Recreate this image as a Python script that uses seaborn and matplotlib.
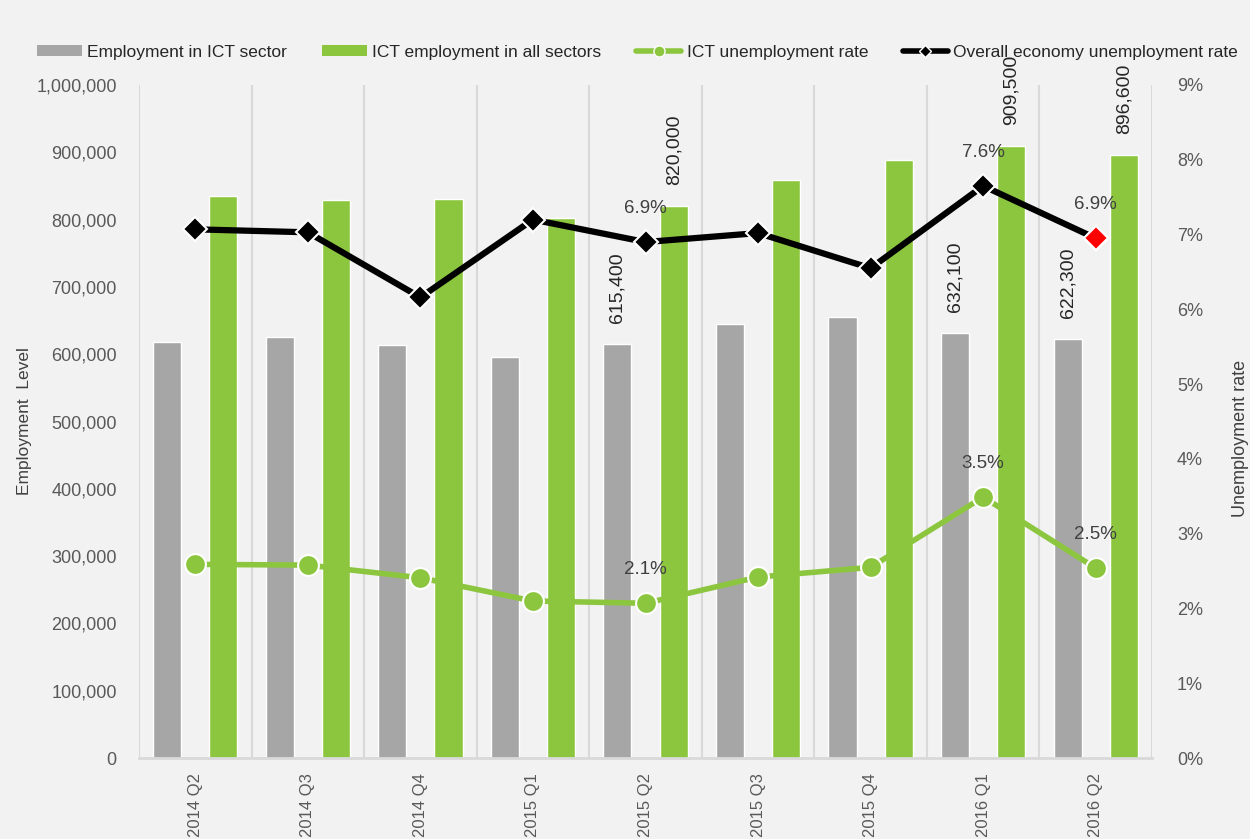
import numpy as np
import pandas as pd
import matplotlib
matplotlib.use("Agg")
import matplotlib.pyplot as plt
import seaborn as sns
from matplotlib.patches import Patch
from matplotlib.lines import Line2D
from matplotlib.ticker import FuncFormatter, FixedLocator

# ---- data ----
quarters = ["2014 Q2", "2014 Q3", "2014 Q4", "2015 Q1", "2015 Q2",
            "2015 Q3", "2015 Q4", "2016 Q1", "2016 Q2"]
emp_ict_sector = [618000, 625000, 613000, 596000, 615400, 645000, 655000, 632100, 622300]
ict_emp_all = [835000, 829000, 831000, 802000, 820000, 859000, 888000, 909500, 896600]
ict_unemp = [2.59, 2.58, 2.41, 2.10, 2.07, 2.42, 2.55, 3.49, 2.54]
overall_unemp = [7.07, 7.03, 6.16, 7.20, 6.90, 7.02, 6.55, 7.65, 6.95]
labelled_idx = [4, 7, 8]
overall_labels = ["6.9%", "7.6%", "6.9%"]
ict_labels = ["2.1%", "3.5%", "2.5%"]
series_names = ["Employment in ICT sector", "ICT employment in all sectors"]

BG = "#f2f2f2"
GREY = "#a6a6a6"
GREEN = "#8cc63f"
GRID = "#d9d9d9"
TXT = "#595959"

sns.set_theme(style="white")
plt.rcParams["font.family"] = ["Liberation Sans", "DejaVu Sans"]

df = pd.DataFrame({
    "quarter": quarters * 2,
    "series": [series_names[0]] * len(quarters) + [series_names[1]] * len(quarters),
    "value": emp_ict_sector + ict_emp_all,
})

fig = plt.figure(figsize=(12.5, 8.39), dpi=100, facecolor=BG)
ax = fig.add_axes([0.1112, 0.0965, 0.8104, 0.8022])
ax.set_facecolor(BG)

sns.barplot(data=df, x="quarter", y="value", hue="series",
            palette=[GREY, GREEN], width=1.0, gap=0.5, ax=ax,
            legend=False, saturation=1, zorder=2)

n = len(quarters)
ax.set_xlim(-0.5, n - 0.5)
ax.set_ylim(0, 1000000)
ax.set_yticks(np.arange(0, 1000001, 100000))
ax.yaxis.set_major_formatter(FuncFormatter(lambda v, p: f"{int(v):,}"))
ax.set_xticks(np.arange(n))
ax.set_xticklabels(quarters, rotation=90)
ax.xaxis.set_minor_locator(FixedLocator(np.arange(-0.5, n, 1.0)))
ax.tick_params(axis="x", which="major", length=0, pad=11, labelsize=12, labelcolor=TXT)
ax.tick_params(axis="x", which="minor", length=10, width=1.5, color=GRID)
ax.tick_params(axis="y", length=0, labelsize=13, labelcolor=TXT, pad=16)
ax.grid(False)
for xb in np.arange(-0.5, n, 1.0):
    ax.axvline(xb, color=GRID, lw=1.5, zorder=0)
for s in ["top", "right", "left"]:
    ax.spines[s].set_visible(False)
ax.spines["bottom"].set_color(GRID)
ax.spines["bottom"].set_linewidth(2)
ax.set_xlabel("")
ax.set_ylabel("Employment  Level", fontsize=12.5, color="#404040", ha="center", va="center")
ax.yaxis.set_label_coords(-0.1135, 0.5)

# bar labels
for i in labelled_idx:
    ax.annotate(f"{emp_ict_sector[i]:,}", (i - 0.25, emp_ict_sector[i]),
                xytext=(0, 15), textcoords="offset points", rotation=90,
                ha="center", va="bottom", fontsize=14, color="#262626")
    ax.annotate(f"{ict_emp_all[i]:,}", (i + 0.25, ict_emp_all[i]),
                xytext=(0, 15), textcoords="offset points", rotation=90,
                ha="center", va="bottom", fontsize=14, color="#262626")

# right axis
ax2 = ax.twinx()
ax2.set_ylim(0, 9)
ax2.set_yticks(np.arange(0, 10, 1))
ax2.yaxis.set_major_formatter(FuncFormatter(lambda v, p: f"{int(v)}%"))
ax2.tick_params(axis="y", length=0, labelsize=13, labelcolor=TXT, pad=18)
for s in ["top", "left", "bottom", "right"]:
    ax2.spines[s].set_visible(False)
ax2.set_ylabel("Unemployment rate", fontsize=13, color="#404040", ha="center", va="center")
ax2.yaxis.set_label_coords(1.087, 0.475)
ax2.grid(False)

xs = np.arange(n)
sns.lineplot(x=xs, y=ict_unemp, ax=ax2, color=GREEN, lw=4, marker="o",
             markersize=15, markeredgecolor="white", markeredgewidth=1.5, zorder=3)
sns.lineplot(x=xs, y=overall_unemp, ax=ax2, color="black", lw=4.5, marker="D",
             markersize=12, markeredgecolor="white", markeredgewidth=1.5, zorder=4)
ax2.plot([xs[-1]], [overall_unemp[-1]], marker="D", markersize=12, color="#ff0000",
         markeredgecolor="white", markeredgewidth=1.5, zorder=5, linestyle="none")
ax2.set_xlim(-0.5, n - 0.5)

for i, lab in zip(labelled_idx, overall_labels):
    ax2.annotate(lab, (i, overall_unemp[i]), xytext=(0, 24), textcoords="offset points",
                 ha="center", va="center", fontsize=13.5, color="#404040")
for i, lab in zip(labelled_idx, ict_labels):
    ax2.annotate(lab, (i, ict_unemp[i]), xytext=(0, 24), textcoords="offset points",
                 ha="center", va="center", fontsize=13.5, color="#404040")

# legend
handles = [
    Patch(facecolor=GREY, edgecolor="none", label=series_names[0]),
    Patch(facecolor=GREEN, edgecolor="none", label=series_names[1]),
    Line2D([], [], color=GREEN, lw=4, marker="o", markersize=8,
           markeredgecolor="white", label="ICT unemployment rate"),
    Line2D([], [], color="black", lw=4, marker="D", markersize=6,
           markeredgecolor="white", label="Overall economy unemployment rate"),
]
fig.legend(handles=handles, loc="center", bbox_to_anchor=(0.51, 0.938), ncol=4,
           frameon=False, fontsize=12.5, handlelength=2.6, handleheight=0.65,
           columnspacing=2.0, handletextpad=0.3)

fig.savefig("out.png", dpi=100, facecolor=BG)
